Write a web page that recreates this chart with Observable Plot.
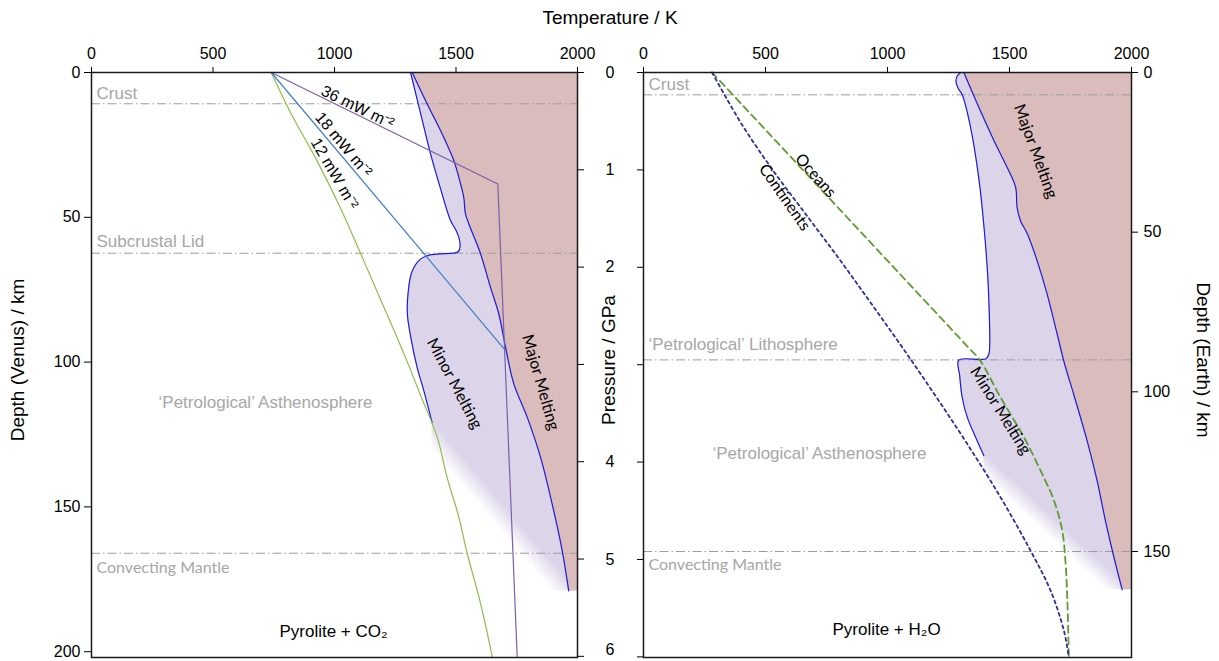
<!DOCTYPE html>
<html>
<head>
<meta charset="utf-8">
<script src="https://cdn.jsdelivr.net/npm/d3@7"></script>
<script src="https://cdn.jsdelivr.net/npm/@observablehq/plot@0.6"></script>
<style>
  html, body { margin: 0; padding: 0; background: white; }
  #chart { position: relative; width: 1219px; height: 661px; background: white; font-family: "Liberation Sans", Arial, sans-serif; color: #000; }
  .ttl { position: absolute; white-space: nowrap; font-size: 19px; transform: translate(-50%, -50%); }
</style>
</head>
<body>
<div id="chart">
  <div class="ttl" style="left:610px; top:18px;">Temperature / K</div>
  <div class="ttl" style="left:18px; top:360px; transform: translate(-50%,-50%) rotate(-90deg);">Depth (Venus) / km</div>
  <div class="ttl" style="left:609px; top:360px; transform: translate(-50%,-50%) rotate(-90deg);">Pressure / GPa</div>
  <div class="ttl" style="left:1203px; top:360px; transform: translate(-50%,-50%) rotate(90deg);">Depth (Earth) / km</div>
</div>
<script>
// ---------- tick values ----------
const tempTicks = [0, 500, 1000, 1500, 2000];
const venusDepthTicks = [0, 50, 100, 150, 200];
const earthDepthTicks = [0, 50, 100, 150];
const pressureTicks = [0, 1, 2, 3, 4, 5, 6];
const kmPerGPaVenus = 33.6;
const kmPerGPaEarth = 30.5;

// ---------- Venus: Pyrolite + CO2 (T in K, d = depth km) ----------
const venusSolidus = [
  {T:1313,d:0},{T:1354,d:14},{T:1395,d:28},{T:1436,d:40},{T:1477,d:51},{T:1500,d:54.5},
  {T:1512,d:57},{T:1517,d:60},{T:1510,d:61.8},{T:1490,d:62.4},{T:1440,d:62.6},{T:1400,d:62.9},
  {T:1381,d:63.3},{T:1350,d:64.7},{T:1318,d:69},{T:1303,d:76},{T:1300,d:83.5},{T:1313,d:91},
  {T:1340,d:101.8},{T:1368,d:110},{T:1402,d:121}
];
const venusMajor = [
  {T:1320,d:0},{T:1381,d:10.8},{T:1443,d:21.2},{T:1491,d:30.4},{T:1519,d:38.5},{T:1532,d:43.1},
  {T:1539,d:48.8},{T:1553,d:52.3},{T:1601,d:62.6},{T:1642,d:74.2},{T:1676,d:83.3},{T:1704,d:94.9},
  {T:1738,d:107.5},{T:1793,d:119},{T:1848,d:132.9},{T:1902,d:151.3},{T:1937,d:165.1},{T:1964,d:179}
];
const geotherm12 = [
  {T:740,d:0},{T:820,d:14},{T:925,d:30},{T:1020,d:46},{T:1105,d:62},{T:1185,d:77.5},{T:1250,d:90},
  {T:1300,d:100},{T:1352,d:111},{T:1423,d:126},{T:1464,d:140},{T:1510,d:153},{T:1546,d:166},
  {T:1600,d:183},{T:1650,d:202}
];
const geotherm18 = [{T:740,d:0},{T:1704,d:96}];
const geotherm36 = [{T:740,d:0},{T:1672,d:38.5},{T:1752,d:202}];
const venusLayers = [
  {name:"Crust", d:10.8},
  {name:"Subcrustal Lid", d:62.4},
  {name:"Convecting Mantle", d:166}
];

// ---------- Earth: Pyrolite + H2O ----------
const earthSolidus = [
  {T:1300,d:0},{T:1285,d:1.2},{T:1281,d:3},{T:1290,d:5},{T:1306,d:7},{T:1340,d:17},{T:1374,d:33},
  {T:1395,d:48},{T:1411,d:64},{T:1418,d:78},{T:1419,d:85},{T:1416,d:88},{T:1405,d:89.6},
  {T:1380,d:89.9},{T:1292,d:90.1},{T:1296,d:95},{T:1306,d:101.7},{T:1327,d:108},{T:1361,d:114.2},
  {T:1395,d:120}
];
const earthMajor = [
  {T:1313,d:0},{T:1368,d:9.8},{T:1436,d:21.3},{T:1490,d:29.7},{T:1525,d:35.9},{T:1531,d:42.2},
  {T:1545,d:46.4},{T:1573,d:50.5},{T:1613,d:58.9},{T:1654,d:69.3},{T:1695,d:81.8},{T:1723,d:90.5},
  {T:1764,d:101},{T:1818,d:115.3},{T:1859,d:127.8},{T:1893,d:140.3},{T:1928,d:151.8},{T:1962,d:162}
];
const oceans = [
  {T:281,d:0},{T:403,d:10},{T:525,d:20},{T:647,d:30},{T:769,d:40},{T:891,d:50},{T:1013,d:60},
  {T:1135,d:70},{T:1257,d:80},{T:1330,d:86},{T:1378,d:90},{T:1463,d:101.7},{T:1559,d:114.2},
  {T:1627,d:124.6},{T:1682,d:134},{T:1716,d:143.4},{T:1730,d:153.9},{T:1737,d:165},{T:1743,d:183}
];
const continents = [
  {T:281,d:0},{T:405,d:16.5},{T:534,d:31},{T:671,d:45},{T:807,d:58.9},{T:930,d:72},{T:1060,d:86},
  {T:1190,d:100.5},{T:1320,d:115.5},{T:1463,d:133},{T:1586,d:149.7},{T:1668,d:162.2},
  {T:1723,d:174.8},{T:1743,d:183}
];
const earthLayers = [
  {name:"Crust", d:7},
  {name:"\u2018Petrological\u2019 Lithosphere", d:90},
  {name:"Convecting Mantle", d:150}
];

// ---------- styles ----------
const LAV = "#dcd5ea", ROSE = "#dbbcbc", MELT = "#1b1bd9", GREYTXT = "#a6a6a6", GREYLINE = "#9c9c9c";
const ARIAL = "Liberation Sans, Arial, sans-serif";
const CALIBRI = "Lato, Open Sans, sans-serif";
const DASHDOT = "9,3,1.5,3";
const fmt = (v) => String(v);

function fadeDefs(id) {
  return () => {
    const ns = "http://www.w3.org/2000/svg";
    const defs = document.createElementNS(ns, "defs");
    const g = document.createElementNS(ns, "linearGradient");
    g.setAttribute("id", id);
    g.setAttribute("x1", "0.3"); g.setAttribute("y1", "0.7");
    g.setAttribute("x2", "0.7"); g.setAttribute("y2", "0.3");
    for (const [o, op] of [[0.28, 0], [0.5, 1]]) {
      const s = document.createElementNS(ns, "stop");
      s.setAttribute("offset", o);
      s.setAttribute("stop-color", LAV);
      s.setAttribute("stop-opacity", op);
      g.appendChild(s);
    }
    defs.appendChild(g);
    return defs;
  };
}

function note(txt, T, d, angle, font, size, fill = "black") {
  return Plot.text([txt], {x: T, y: d, text: (t) => t, rotate: angle, fontFamily: font, fontSize: size, fill});
}
function layerLabel(layer, dy, font) {
  return Plot.text([layer], {x: 0, y: "d", text: "name", dx: 5, dy, textAnchor: "start", lineAnchor: "bottom",
    fill: GREYTXT, fontFamily: font, fontSize: font === ARIAL ? 17 : 16});
}
function meltingMarks(solidus, major, fadeId) {
  const solEnd = solidus[solidus.length - 1];
  const majEnd = major[major.length - 1];
  // fade band starts a touch above the solidus end so the two fills overlap without a seam
  const fadeBand = [{d: solEnd.d - 1}, {d: majEnd.d}];
  return [
    fadeDefs(fadeId),
    Plot.areaX(solidus, {y: "d", x1: "T", x2: 2000, fill: LAV, curve: "catmull-rom"}),
    Plot.areaX(fadeBand, {y: "d", x1: solEnd.T, x2: 2000, fill: `url(#${fadeId})`}),
    Plot.areaX(major, {y: "d", x1: "T", x2: 2000, fill: ROSE, curve: "catmull-rom"})
  ];
}
const svgStyle = {background: "transparent", position: "absolute", left: "0px", top: "0px", overflow: "visible", fontFamily: ARIAL};

const chart = document.getElementById("chart");

// ---------- Venus panel ----------
const venus = Plot.plot({
  width: 643, height: 661,
  marginLeft: 91, marginRight: 66, marginTop: 72, marginBottom: 4,
  style: svgStyle,
  x: {domain: [0, 2000], label: null},
  y: {domain: [0, 202], reverse: true, label: null},
  marks: [
    ...meltingMarks(venusSolidus, venusMajor, "fadeVenus"),
    Plot.ruleY(venusLayers, {y: "d", stroke: GREYLINE, strokeWidth: 1, strokeDasharray: DASHDOT}),
    layerLabel(venusLayers[0], -5, ARIAL),
    layerLabel(venusLayers[1], -6, ARIAL),
    layerLabel(venusLayers[2], 20, CALIBRI),
    Plot.line(venusSolidus, {x: "T", y: "d", stroke: MELT, strokeWidth: 1.2, curve: "catmull-rom"}),
    Plot.line(venusMajor, {x: "T", y: "d", stroke: MELT, strokeWidth: 1.2, curve: "catmull-rom"}),
    Plot.line(geotherm12, {x: "T", y: "d", stroke: "#8dbd4c", strokeWidth: 1.2, curve: "catmull-rom"}),
    Plot.line(geotherm18, {x: "T", y: "d", stroke: "#3f7fc8", strokeWidth: 1.2}),
    Plot.line(geotherm36, {x: "T", y: "d", stroke: "#7a5fab", strokeWidth: 1.2}),
    note("36 mW m\u207B\u00B2", 1095, 12, 26, ARIAL, 16),
    note("18 mW m\u207B\u00B2", 1037, 24.9, 50, ARIAL, 16),
    note("12 mW m\u207B\u00B2", 1000, 34.9, 60, ARIAL, 16),
    note("Minor Melting", 1494, 107.4, 62, CALIBRI, 16),
    note("Major Melting", 1848, 107, 74, CALIBRI, 16),
    Plot.text(["\u2018Petrological\u2019 Asthenosphere"], {x: 716, y: 115.7, text: t => t, lineAnchor: "bottom", fill: GREYTXT, fontFamily: ARIAL, fontSize: 17}),
    Plot.text(["Pyrolite + CO\u2082"], {x: 996, y: 194.8, text: t => t, lineAnchor: "bottom", fill: "black", fontFamily: ARIAL, fontSize: 17}),
    Plot.frame({stroke: "#1a1a1a", strokeWidth: 1.5}),
    Plot.axisX(tempTicks, {anchor: "top", tickSize: 6, tickPadding: 8, fontSize: 16, label: null, tickFormat: fmt}),
    Plot.axisY(venusDepthTicks, {anchor: "left", tickSize: 7, tickPadding: 4, fontSize: 16, label: null, tickFormat: fmt}),
    Plot.axisY(pressureTicks.map(p => p * kmPerGPaVenus), {anchor: "right", tickSize: 6, tickFormat: () => "", label: null})
  ]
});
chart.appendChild(venus);

// ---------- Earth panel ----------
const lastP = pressureTicks[pressureTicks.length - 1];
const earth = Plot.plot({
  width: 1219, height: 661,
  marginLeft: 643, marginRight: 88, marginTop: 72, marginBottom: 4,
  style: svgStyle,
  x: {domain: [0, 2000], label: null},
  y: {domain: [0, 183.2], reverse: true, label: null},
  marks: [
    ...meltingMarks(earthSolidus, earthMajor, "fadeEarth"),
    Plot.ruleY(earthLayers, {y: "d", stroke: GREYLINE, strokeWidth: 1, strokeDasharray: DASHDOT}),
    layerLabel(earthLayers[0], -5, ARIAL),
    layerLabel(earthLayers[1], -10, ARIAL),
    layerLabel(earthLayers[2], 19, CALIBRI),
    Plot.line(earthSolidus, {x: "T", y: "d", stroke: MELT, strokeWidth: 1.2, curve: "catmull-rom"}),
    Plot.line(earthMajor, {x: "T", y: "d", stroke: MELT, strokeWidth: 1.2, curve: "catmull-rom"}),
    Plot.line(oceans, {x: "T", y: "d", stroke: "#5f9c2f", strokeWidth: 1.8, strokeDasharray: "7,4.5", curve: "catmull-rom"}),
    Plot.line(continents, {x: "T", y: "d", stroke: "#2d2d9e", strokeWidth: 1.8, strokeDasharray: "3,3.5", curve: "catmull-rom"}),
    note("Oceans", 705, 32.3, 48, CALIBRI, 16),
    note("Continents", 578, 39.1, 55, CALIBRI, 16),
    note("Major Melting", 1607, 24.7, 70, CALIBRI, 16),
    note("Minor Melting", 1463, 105.9, 58, CALIBRI, 16),
    Plot.text(["\u2018Petrological\u2019 Asthenosphere"], {x: 721, y: 120.9, text: t => t, lineAnchor: "bottom", fill: GREYTXT, fontFamily: ARIAL, fontSize: 17}),
    Plot.text(["Pyrolite + H\u2082O"], {x: 996, y: 176.3, text: t => t, lineAnchor: "bottom", fill: "black", fontFamily: ARIAL, fontSize: 17}),
    Plot.frame({stroke: "#1a1a1a", strokeWidth: 1.5}),
    Plot.axisX(tempTicks, {anchor: "top", tickSize: 6, tickPadding: 8, fontSize: 16, label: null, tickFormat: fmt}),
    Plot.axisY(pressureTicks.map(p => p * kmPerGPaEarth), {anchor: "left", tickSize: 6, tickPadding: 23, fontSize: 16, label: null,
      tickFormat: (v) => { const p = Math.round(v / kmPerGPaEarth); return (p === 3 || p === lastP) ? "" : String(p); }}),
    Plot.text([lastP], {x: 0, y: lastP * kmPerGPaEarth, text: fmt, dx: -29, dy: -2, textAnchor: "end", lineAnchor: "bottom", fontSize: 16, fontFamily: ARIAL, fill: "black"}),
    Plot.axisY(earthDepthTicks, {anchor: "right", tickSize: 6, tickPadding: 6, fontSize: 16, label: null, tickFormat: fmt})
  ]
});
chart.appendChild(earth);
</script>
</body>
</html>
